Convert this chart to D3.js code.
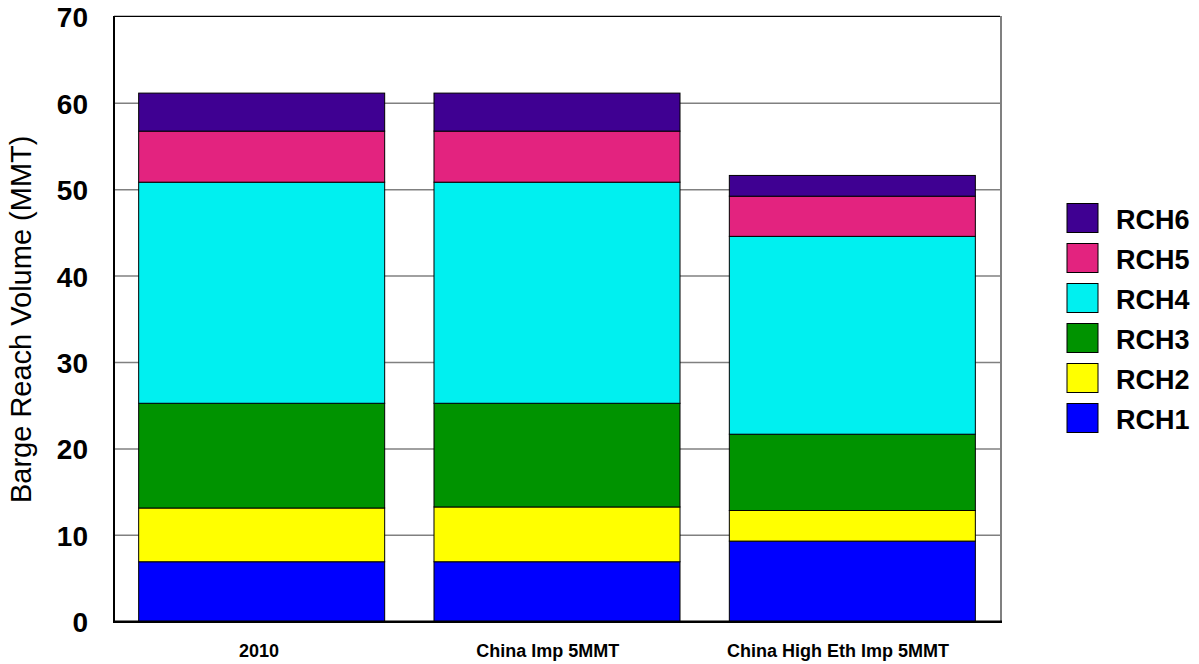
<!DOCTYPE html>
<html>
<head>
<meta charset="utf-8">
<script src="https://cdn.jsdelivr.net/npm/d3@7"></script>
<style>
html,body{margin:0;padding:0;background:#fff;}
svg{display:block;font-family:"Liberation Sans",Arial,sans-serif;}
</style>
</head>
<body>
<svg id="chart" width="1199" height="664"></svg>
<script>
const categories = ["2010", "China Imp 5MMT", "China High Eth Imp 5MMT"];
const seriesNames = ["RCH1", "RCH2", "RCH3", "RCH4", "RCH5", "RCH6"];
const RCH1 = [6.94, 6.94, 9.33];
const RCH2 = [6.22, 6.34, 3.54];
const RCH3 = [12.12, 12.0, 8.83];
const RCH4 = [25.59, 25.59, 22.9];
const RCH5 = [5.91, 5.91, 4.65];
const RCH6 = [4.4, 4.4, 2.4];
const colors = ["#0000ff", "#ffff00", "#009300", "#00f0f0", "#e3237f", "#3f0092"];
const yTicks = [0, 10, 20, 30, 40, 50, 60, 70];
const yTitle = "Barge Reach Volume (MMT)";

(function () {
const seriesValues = [RCH1, RCH2, RCH3, RCH4, RCH5, RCH6];
const rows = categories.map((c, i) => {
  const r = {cat: c};
  seriesNames.forEach((s, j) => r[s] = seriesValues[j][i]);
  return r;
});

const svg = d3.select("#chart");
const pL = 114, pR = 1000, pT = 16.9, pB = 621.7;

const x = d3.scaleBand().domain(categories).range([pL, pR])
  .paddingInner(0.167).paddingOuter(0.0835);
const y = d3.scaleLinear().domain([0, 70]).range([pB, pT]);

// gridlines
svg.append("g").selectAll("line").data(yTicks.filter(t => t > 0 && t < 70)).join("line")
  .attr("x1", pL).attr("x2", pR)
  .attr("y1", d => y(d)).attr("y2", d => y(d))
  .attr("stroke", "#808080").attr("stroke-width", 1.5);

// frame
svg.append("line").attr("x1", pL).attr("x2", pR).attr("y1", pT - 0.5).attr("y2", pT - 0.5)
  .attr("stroke", "#000").attr("stroke-width", 1.2);
svg.append("line").attr("x1", pR + 1).attr("x2", pR + 1).attr("y1", pT - 1).attr("y2", pB)
  .attr("stroke", "#808080").attr("stroke-width", 2);

// stacked bars
const stack = d3.stack().keys(seriesNames)(rows);
svg.append("g").selectAll("g").data(stack).join("g")
  .attr("fill", (d, i) => colors[i])
  .selectAll("rect").data(d => d).join("rect")
  .attr("x", d => x(d.data.cat))
  .attr("width", x.bandwidth())
  .attr("y", d => y(d[1]))
  .attr("height", d => y(d[0]) - y(d[1]))
  .attr("stroke", "#000").attr("stroke-width", 1);

// left axis line and bottom line
svg.append("line").attr("x1", pL).attr("x2", pL).attr("y1", pT - 1).attr("y2", pB + 1)
  .attr("stroke", "#000").attr("stroke-width", 2);
svg.append("line").attr("x1", pL - 1).attr("x2", pR + 2).attr("y1", pB).attr("y2", pB)
  .attr("stroke", "#000").attr("stroke-width", 2.5);

// y axis labels
const yAxis = d3.axisLeft(y).tickValues(yTicks).tickSize(0).tickPadding(0).tickFormat(d3.format("d"));
const ya = svg.append("g").attr("transform", `translate(${pL - 26},0)`).call(yAxis);
ya.select(".domain").remove();
ya.selectAll("text").attr("font-size", 28).attr("font-weight", "bold")
  .attr("fill", "#000").attr("font-family", '"Liberation Sans",Arial,sans-serif').attr("dy", "0.36em");

// x axis labels
const xAxis = d3.axisBottom(x).tickSize(0).tickPadding(0);
const xa = svg.append("g").attr("transform", `translate(0,${pB + 23})`).call(xAxis);
xa.select(".domain").remove();
xa.selectAll("text").attr("font-size", 18).attr("font-weight", "bold")
  .attr("fill", "#000").attr("font-family", '"Liberation Sans",Arial,sans-serif').attr("dy", "0.71em")
  .attr("dx", function () { return -0.065 * this.getComputedTextLength(); });

// y title
svg.append("text")
  .attr("transform", `translate(31,${(pT + pB) / 2 + 0}) rotate(-90)`)
  .attr("text-anchor", "middle")
  .attr("font-size", 29)
  .attr("fill", "#000")
  .text(yTitle);

// legend
const legendOrder = seriesNames.map((s, i) => ({name: s, color: colors[i]})).reverse();
const lg = svg.append("g").attr("transform", "translate(1067,203.5)");
const item = lg.selectAll("g").data(legendOrder).join("g")
  .attr("transform", (d, i) => `translate(0,${i * 40})`);
item.append("rect").attr("width", 31).attr("height", 29)
  .attr("fill", d => d.color).attr("stroke", "#000").attr("stroke-width", 1);
item.append("text").attr("x", 49).attr("y", 16).attr("dy", "0.36em")
  .attr("font-size", 27).attr("font-weight", "bold").attr("fill", "#000")
  .text(d => d.name);
})();
</script>
</body>
</html>
